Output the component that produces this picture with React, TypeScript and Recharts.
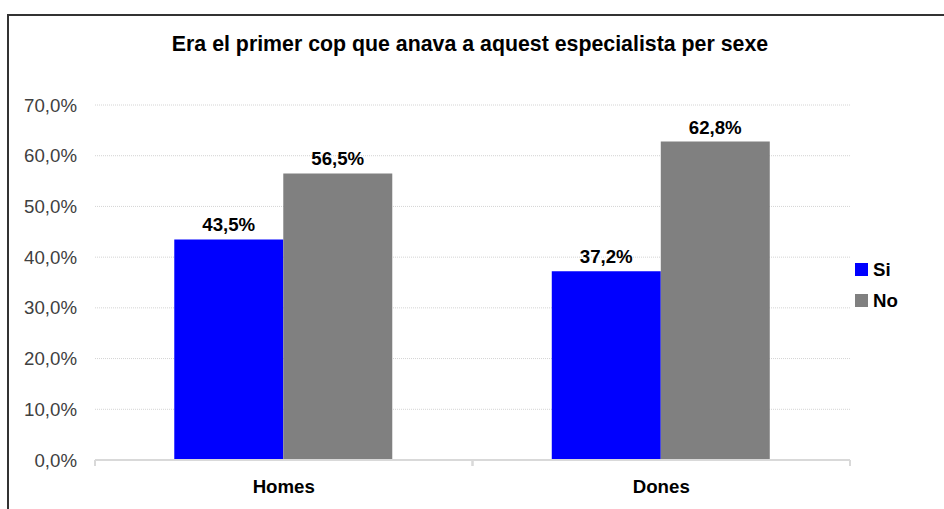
import { BarChart, Bar, XAxis, YAxis, CartesianGrid, Legend, LabelList } from "recharts";

const categories = ["Homes", "Dones"];
const siValues = [43.5, 37.2];
const noValues = [56.5, 62.8];
const yTicks = [0, 10, 20, 30, 40, 50, 60, 70];

const data = categories.map((name, i) => ({ name, si: siValues[i], no: noValues[i] }));

const FONT = "'Liberation Sans', Arial, sans-serif";
const BLUE = "#0000ff";
const GRAY = "#808080";
const FS = 18.67; // 14pt

const pct = (v: number) => `${v.toFixed(1).replace(".", ",")}%`;

function CategoryTick(props: any) {
  const { x, y, payload } = props;
  const half = payload.offset ?? 0;
  return (
    <g>
      <line x1={x - half} y1={y} x2={x - half} y2={y + 6} stroke="#d9d9d9" strokeWidth={2} />
      <line x1={x + half} y1={y} x2={x + half} y2={y + 6} stroke="#d9d9d9" strokeWidth={2} />
      <text
        x={x}
        y={y + 20}
        dy="0.71em"
        textAnchor="middle"
        fontFamily={FONT}
        fontSize={FS}
        fontWeight="bold"
        fill="#000"
      >
        {payload.value}
      </text>
    </g>
  );
}

function LegendBox() {
  const items = [
    { label: "Si", color: BLUE },
    { label: "No", color: GRAY },
  ];
  return (
    <div style={{ fontFamily: FONT }}>
      {items.map((it) => (
        <div key={it.label} style={{ display: "flex", alignItems: "center", height: 31 }}>
          <span style={{ width: 13, height: 13, background: it.color, marginRight: 5, display: "inline-block" }} />
          <span style={{ fontSize: FS, fontWeight: "bold", color: "#000" }}>{it.label}</span>
        </div>
      ))}
    </div>
  );
}

export default function App() {
  return (
    <div style={{ position: "relative", width: 944, height: 509, overflow: "hidden", fontFamily: FONT }}>
      <style>{`body{margin:0}`}</style>
      {/* frame: only the top and left edges are visible in the crop */}
      <div style={{ position: "absolute", left: 7, top: 14, width: 937, height: 2, background: "#333" }} />
      <div style={{ position: "absolute", left: 7, top: 14, width: 2, height: 495, background: "#333" }} />
      <div
        style={{
          position: "absolute",
          left: 0,
          top: 32,
          width: 940,
          textAlign: "center",
          fontSize: 21.33,
          lineHeight: "24px",
          fontWeight: "bold",
          color: "#000",
        }}
      >
        Era el primer cop que anava a aquest especialista per sexe
      </div>
      <div style={{ position: "absolute", left: 8, top: 8 }}>
        <BarChart
          width={936}
          height={501}
          data={data}
          margin={{ top: 97, right: 94, bottom: 19, left: 17 }}
          barCategoryGap="21%"
          barGap={0}
        >
          <CartesianGrid vertical={false} stroke="#d4d4d4" strokeDasharray="1 1" />
          <XAxis
            dataKey="name"
            height={30}
            axisLine={{ stroke: "#d9d9d9", strokeWidth: 2 }}
            tickLine={false}
            tickSize={0}
            tickMargin={0}
            tick={<CategoryTick />}
          />
          <YAxis
            width={70}
            domain={[0, 70]}
            ticks={yTicks}
            tickFormatter={pct}
            axisLine={false}
            tickLine={false}
            tickSize={0}
            tickMargin={18}
            tick={{ fontFamily: FONT, fontSize: FS, fill: "#404040" }}
          />
          <Legend
            layout="vertical"
            align="center"
            verticalAlign="middle"
            content={<LegendBox />}
            wrapperStyle={{ position: "absolute", left: 847, top: 246, width: 80 }}
          />
          <Bar dataKey="si" name="Si" fill={BLUE} isAnimationActive={false}>
            <LabelList
              dataKey="si"
              position="top"
              offset={8}
              formatter={(v: any) => pct(Number(v))}
              style={{ fontFamily: FONT, fontSize: FS, fontWeight: "bold", fill: "#000" }}
            />
          </Bar>
          <Bar dataKey="no" name="No" fill={GRAY} isAnimationActive={false}>
            <LabelList
              dataKey="no"
              position="top"
              offset={8}
              formatter={(v: any) => pct(Number(v))}
              style={{ fontFamily: FONT, fontSize: FS, fontWeight: "bold", fill: "#000" }}
            />
          </Bar>
        </BarChart>
      </div>
    </div>
  );
}
